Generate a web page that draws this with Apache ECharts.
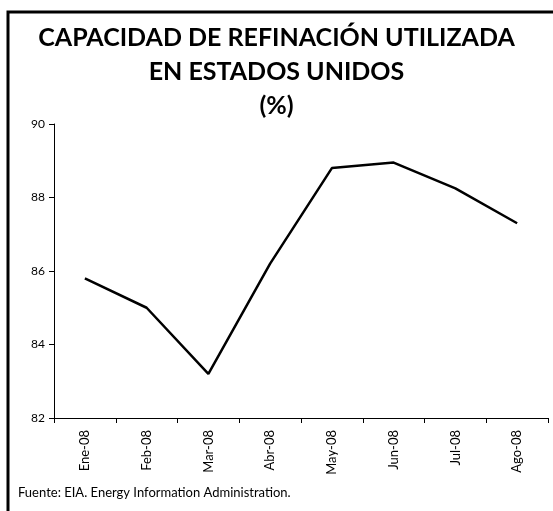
<!DOCTYPE html>
<html>
<head>
<meta charset="utf-8">
<script src="https://cdn.jsdelivr.net/npm/echarts@6/dist/echarts.min.js"></script>
<style>
  html, body { margin: 0; padding: 0; background: #fff; }
  #main { width: 553px; height: 511px; }
</style>
</head>
<body>
<div id="main"></div>
<script>
// datos del grafico
var meses = ['Ene-08', 'Feb-08', 'Mar-08', 'Abr-08', 'May-08', 'Jun-08', 'Jul-08', 'Ago-08'];
var capacidad = [85.8, 85.0, 83.2, 86.2, 88.8, 88.95, 88.25, 87.3];
var titulo = 'CAPACIDAD DE REFINACIÓN UTILIZADA\nEN ESTADOS UNIDOS\n(%)';
var fuente = 'Fuente: EIA. Energy Information Administration.';

var myChart = echarts.init(document.getElementById('main'));

var option = {
    backgroundColor: '#fff',
    animation: false,
    title: {
        text: titulo,
        left: 'center',
        top: 16,
        textStyle: {
            fontFamily: 'Lato',
            fontWeight: 'bold',
            fontSize: 25,
            lineHeight: 34,
            color: '#000'
        }
    },
    graphic: [
        {
            type: 'rect',
            shape: { x: 8, y: 12, width: 560, height: 520 },
            style: { fill: 'none', stroke: '#000', lineWidth: 3 }
        },
        {
            type: 'text',
            left: 18,
            top: 486,
            style: {
                text: fuente,
                fontFamily: 'Lato',
                fontSize: 13,
                fill: '#000'
            }
        }
    ],
    grid: {
        left: 54,
        right: 5,
        top: 124,
        bottom: 93
    },
    xAxis: {
        type: 'category',
        data: meses,
        boundaryGap: true,
        axisLine: { lineStyle: { color: '#000', width: 1 } },
        axisTick: { show: true, length: 5, interval: 0, lineStyle: { color: '#000' } },
        axisLabel: {
            rotate: 90,
            interval: 0,
            margin: 12,
            fontFamily: 'Lato',
            fontSize: 13,
            color: '#000'
        },
        splitLine: { show: false }
    },
    yAxis: {
        type: 'value',
        min: 82,
        max: 90,
        interval: 2,
        axisLine: { show: true, lineStyle: { color: '#000', width: 1 } },
        axisTick: { show: true, length: 5, lineStyle: { color: '#000' } },
        axisLabel: {
            margin: 9,
            fontFamily: 'Lato',
            fontSize: 12,
            color: '#000'
        },
        splitLine: { show: false }
    },
    series: [{
        name: 'Capacidad',
        type: 'line',
        data: capacidad,
        showSymbol: false,
        symbol: 'none',
        lineStyle: { color: '#000', width: 2.5 }
    }]
};
myChart.setOption(option);
</script>
</body>
</html>
